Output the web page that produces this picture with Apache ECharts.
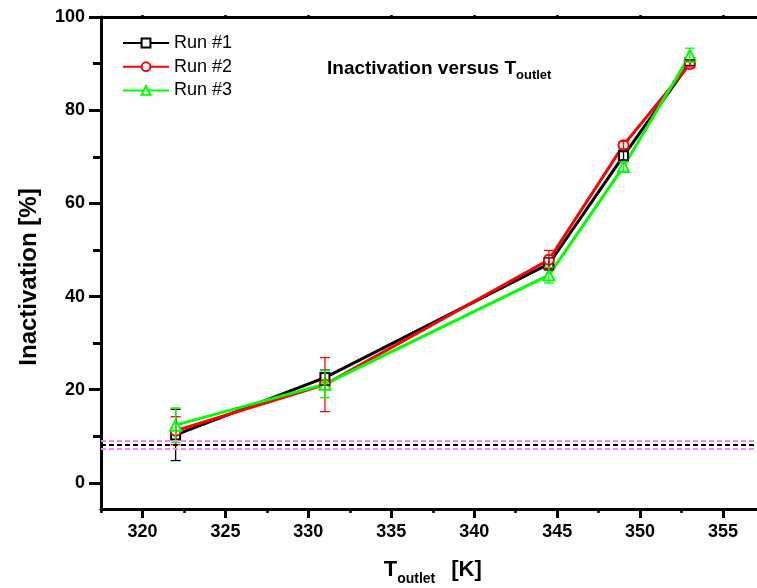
<!DOCTYPE html>
<html>
<head>
<meta charset="utf-8">
<title>Inactivation versus T outlet</title>
<script src="https://cdn.jsdelivr.net/npm/echarts@6/dist/echarts.min.js"></script>
<style>
  html, body { margin: 0; padding: 0; background: #ffffff; }
  #chart { width: 757px; height: 588px; }
</style>
</head>
<body>
<div id="chart"></div>
<script>
// Outlet temperatures [K] of the three runs
const temperatures = [322, 331, 344.5, 349, 353];

// Inactivation [%] and its error for each run
const run1 = [10.3, 22.6, 47.0, 70.2, 90.2];
const run1Err = [5.5, 1.6, 1.3, 1.0, 0.6];
const run2 = [11.2, 21.1, 47.9, 72.5, 89.9];
const run2Err = [3.0, 5.8, 2.0, 0.8, 0.6];
const run3 = [12.4, 21.2, 44.6, 67.9, 91.8];
const run3Err = [3.7, 2.9, 1.7, 1.0, 1.5];

// Control level (mean and its band)
const controlMean = 8.1;
const controlBand = [7.3, 9.0];

// Tick positions
const xMajorTicks = [320, 325, 330, 335, 340, 345, 350, 355];
const xMinorTicks = [317.5, 322.5, 327.5, 332.5, 337.5, 342.5, 347.5, 352.5, 357.5];
const yMajorTicks = [0, 20, 40, 60, 80, 100];
const yMinorTicks = [10, 30, 50, 70, 90];

const FONT = 'Liberation Sans, Arial, Helvetica, sans-serif';
const X_MIN = 317.5, X_MAX = 357.5;
const Y_MIN = -5.6, Y_MAX = 100;

function xAxisBase(extra) {
  return Object.assign({
    type: 'value', min: X_MIN, max: X_MAX,
    splitLine: { show: false },
    axisLine: { show: false, onZero: false },
    axisTick: { show: false },
    axisLabel: { show: false }
  }, extra);
}
function yAxisBase(extra) {
  return Object.assign({
    type: 'value', min: Y_MIN, max: Y_MAX,
    splitLine: { show: false },
    axisLine: { show: false, onZero: false },
    axisTick: { show: false },
    axisLabel: { show: false }
  }, extra);
}

function lineSeries(name, values, color, symbol, size) {
  return {
    type: 'line',
    name: name,
    data: temperatures.map((t, i) => [t, values[i]]),
    symbol: symbol,
    symbolSize: size,
    showAllSymbol: true,
    lineStyle: { color: color, width: 3 },
    itemStyle: { color: color, borderColor: color, borderWidth: 1.3 },
    emphasis: { disabled: true },
    z: 2
  };
}

function errorBars(values, errors, color) {
  return {
    type: 'custom',
    data: temperatures.map((t, i) => [t, values[i] - errors[i], values[i] + errors[i]]),
    encode: { x: 0, y: [1, 2] },
    silent: true,
    z: 4,
    renderItem: function (params, api) {
      const x = api.value(0);
      const lo = api.coord([x, api.value(1)]);
      const hi = api.coord([x, api.value(2)]);
      const half = 5;
      const style = { stroke: color, lineWidth: 1.3, fill: null };
      return {
        type: 'group',
        children: [
          { type: 'line', shape: { x1: hi[0], y1: hi[1], x2: lo[0], y2: lo[1] }, style: style },
          { type: 'line', shape: { x1: hi[0] - half, y1: hi[1], x2: hi[0] + half, y2: hi[1] }, style: style },
          { type: 'line', shape: { x1: lo[0] - half, y1: lo[1], x2: lo[0] + half, y2: lo[1] }, style: style }
        ]
      };
    }
  };
}

const chart = echarts.init(document.getElementById('chart'), null, { renderer: 'canvas' });

const option = {
  animation: false,
  backgroundColor: '#ffffff',
  textStyle: { fontFamily: FONT },
  title: {
    text: '{a|Inactivation versus T}{b|outlet}',
    left: 327,
    top: 59,
    padding: 0,
    textStyle: {
      rich: {
        a: { fontFamily: FONT, fontSize: 19, fontWeight: 'bold', color: '#000', lineHeight: 20, verticalAlign: 'top' },
        b: { fontFamily: FONT, fontSize: 13, fontWeight: 'bold', color: '#000', lineHeight: 14, padding: [12, 0, 0, 0] }
      }
    }
  },
  legend: {
    data: ['Run #1', 'Run #2', 'Run #3'],
    orient: 'vertical',
    left: 122,
    top: 34,
    padding: 0,
    itemWidth: 46,
    itemHeight: 11,
    itemGap: 5.7,
    selectedMode: false,
    textStyle: { fontFamily: FONT, fontSize: 18, color: '#000' }
  },
  // The plotting frame runs past the right edge of the page
  grid: { left: 101, top: 17, right: -7.5, bottom: 79, containLabel: false, outerBoundsMode: 'none' },
  xAxis: [
    xAxisBase({
      position: 'bottom',
      name: '{a|T}{b|outlet}{c|[K]}',
      nameLocation: 'middle',
      nameGap: 50,
      nameTextStyle: {
        rich: {
          a: { fontFamily: FONT, fontSize: 22, fontWeight: 'bold', color: '#000', lineHeight: 24, verticalAlign: 'top' },
          b: { fontFamily: FONT, fontSize: 14, fontWeight: 'bold', color: '#000', lineHeight: 16, padding: [16, 0, 0, 0] },
          c: { fontFamily: FONT, fontSize: 22, fontWeight: 'bold', color: '#000', lineHeight: 24, verticalAlign: 'top', padding: [0, 0, 0, 16] }
        }
      },
      axisLine: { show: true, onZero: false, lineStyle: { color: '#000', width: 3 } },
      axisTick: { show: true, inside: false, length: 9, customValues: xMajorTicks, lineStyle: { color: '#000', width: 3 } },
      axisLabel: {
        show: true, customValues: xMajorTicks, margin: 14,
        fontFamily: FONT, fontSize: 18, fontWeight: 'bold', color: '#000'
      }
    }),
    xAxisBase({
      position: 'bottom',
      axisTick: { show: true, inside: false, length: 4, customValues: xMinorTicks, lineStyle: { color: '#000', width: 2.5 } }
    }),
    xAxisBase({
      position: 'top',
      axisLine: { show: true, onZero: false, lineStyle: { color: '#000', width: 3 } },
      axisTick: { show: true, inside: false, length: 2, customValues: xMajorTicks, lineStyle: { color: '#000', width: 2.5 } }
    })
  ],
  yAxis: [
    yAxisBase({
      position: 'left',
      name: 'Inactivation [%]',
      nameLocation: 'middle',
      nameGap: 60,
      nameTextStyle: { fontFamily: FONT, fontSize: 24, fontWeight: 'bold', color: '#000', padding: [0, 28, 0, 0] },
      axisLine: { show: true, onZero: false, lineStyle: { color: '#000', width: 3 } },
      axisTick: { show: true, inside: false, length: 12, customValues: yMajorTicks, lineStyle: { color: '#000', width: 3 } },
      axisLabel: {
        show: true, customValues: yMajorTicks, margin: 16,
        fontFamily: FONT, fontSize: 18, fontWeight: 'bold', color: '#000'
      }
    }),
    yAxisBase({
      position: 'left',
      axisTick: { show: true, inside: false, length: 8, customValues: yMinorTicks, lineStyle: { color: '#000', width: 3 } }
    })
  ],
  series: [
    Object.assign(lineSeries('Run #1', run1, '#000000', 'emptyRect', 9), {
      markLine: {
        silent: true,
        symbol: 'none',
        label: { show: false },
        emphasis: { disabled: true },
        data: [
          { yAxis: controlBand[1], lineStyle: { color: '#ff80ff', width: 2, type: [5, 3] } },
          { yAxis: controlBand[0], lineStyle: { color: '#ff80ff', width: 2, type: [5, 3] } },
          { yAxis: controlMean, lineStyle: { color: '#000000', width: 2, type: [5, 3] } }
        ]
      }
    }),
    errorBars(run1, run1Err, '#000000'),
    lineSeries('Run #2', run2, '#ff0000', 'emptyCircle', 10),
    errorBars(run2, run2Err, '#ff0000'),
    lineSeries('Run #3', run3, '#00ff00', 'emptyTriangle', 11),
    errorBars(run3, run3Err, '#00ff00')
  ]
};

chart.setOption(option);
</script>
</body>
</html>
